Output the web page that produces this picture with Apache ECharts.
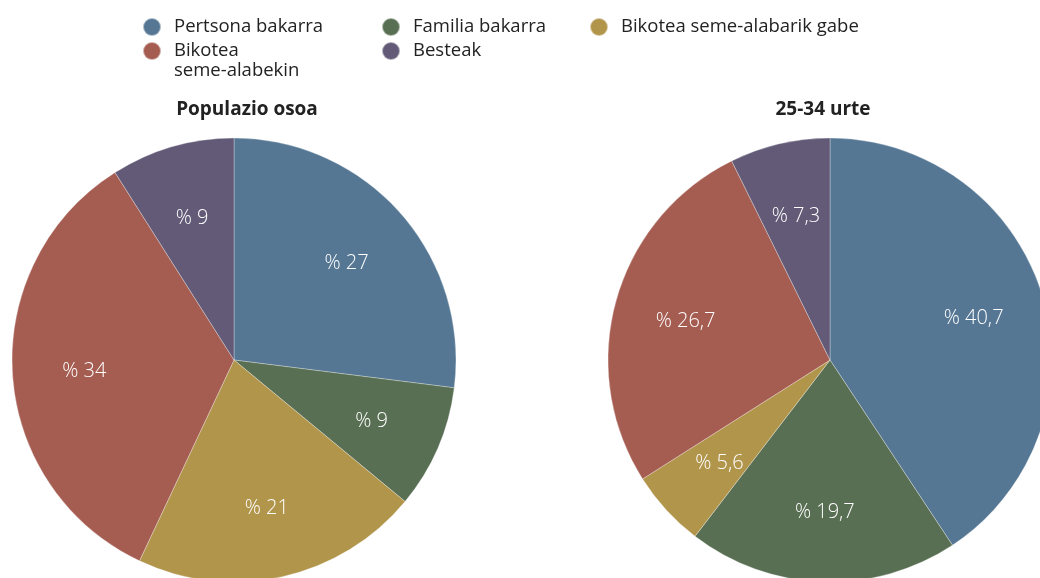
<!DOCTYPE html>
<html>
<head>
<meta charset="utf-8">
<script src="https://cdn.jsdelivr.net/npm/echarts@6/dist/echarts.min.js"></script>
<style>
  html, body { margin: 0; padding: 0; background: #fff; }
  #main { width: 1040px; height: 578px; }
</style>
</head>
<body>
<div id="main"></div>
<script>
// kategoriak, tartaren ordenean (goitik, erlojuaren noranzkoan)
var categories = ['Pertsona bakarra', 'Familia bakarra', 'Bikotea seme-alabarik gabe', 'Bikotea seme-alabekin', 'Besteak'];
var colors = ['#557794', '#586f53', '#b1954b', '#a55c51', '#625a76'];
var titles = ['Populazio osoa', '25-34 urte'];
var totalValues = [27, 9, 21, 34, 9];
var youngValues = [40.7, 19.7, 5.6, 26.7, 7.3];

var myChart = echarts.init(document.getElementById('main'));
var font = '"Open Sans", "Noto Sans", sans-serif';

function makeData(values) {
    return categories.map(function (name, i) {
        return { name: name, value: values[i], itemStyle: { color: colors[i] } };
    });
}

function pieSeries(values, center) {
    return [{
        type: 'pie',
        center: center,
        radius: 222,
        startAngle: 90,
        silent: true,
        label: { show: false },
        labelLine: { show: false },
        itemStyle: { borderColor: 'rgba(255,255,255,0.5)', borderWidth: 0.6 },
        data: makeData(values)
    }, {
        // etiketak soilik, erradio handiagoarekin barruko posizioa kanpora eramateko
        type: 'pie',
        center: center,
        radius: [0, 294],
        startAngle: 90,
        silent: true,
        itemStyle: { color: 'rgba(0,0,0,0)' },
        label: {
            show: true,
            position: 'inside',
            offset: [0, 2],
            color: '#fff',
            fontFamily: font,
            fontWeight: 300,
            fontSize: 20,
            formatter: function (p) {
                return '% ' + String(p.value).replace('.', ',');
            }
        },
        labelLine: { show: false },
        data: categories.map(function (name, i) {
            return { name: name, value: values[i] };
        })
    }];
}

var legendText = { fontFamily: font, fontSize: 18.5, color: '#222', lineHeight: 20, padding: [0, 0, 0, 8] };
var legendBase = {
    orient: 'vertical', top: 12,
    icon: 'circle', itemWidth: 18, itemHeight: 18,
    selectedMode: false,
    textStyle: legendText
};

var option = {
    animation: false,
    title: [{
        text: titles[0],
        left: 242, top: 95, textAlign: 'center',
        textStyle: { fontFamily: font, fontSize: 19, fontWeight: 'bold', color: '#222' }
    }, {
        text: titles[1],
        left: 818, top: 95, textAlign: 'center',
        textStyle: { fontFamily: font, fontSize: 19, fontWeight: 'bold', color: '#222' }
    }],
    legend: [
        echarts.util.extend({
            left: 137, itemGap: -16,
            // lehen lerro hutsak ikonoa "Bikotea" lerroarekin lerrokatzen du
            formatter: function (name) {
                return name === 'Bikotea seme-alabekin' ? ' \nBikotea\nseme-alabekin' : name;
            },
            data: [categories[0], categories[3]]
        }, legendBase),
        echarts.util.extend({ left: 376, itemGap: 4, data: [categories[1], categories[4]] }, legendBase),
        echarts.util.extend({ left: 584, data: [categories[2]] }, legendBase)
    ],
    series: pieSeries(totalValues, [234, 360]).concat(pieSeries(youngValues, [830, 360]))
};

myChart.setOption(option);
</script>
</body>
</html>
